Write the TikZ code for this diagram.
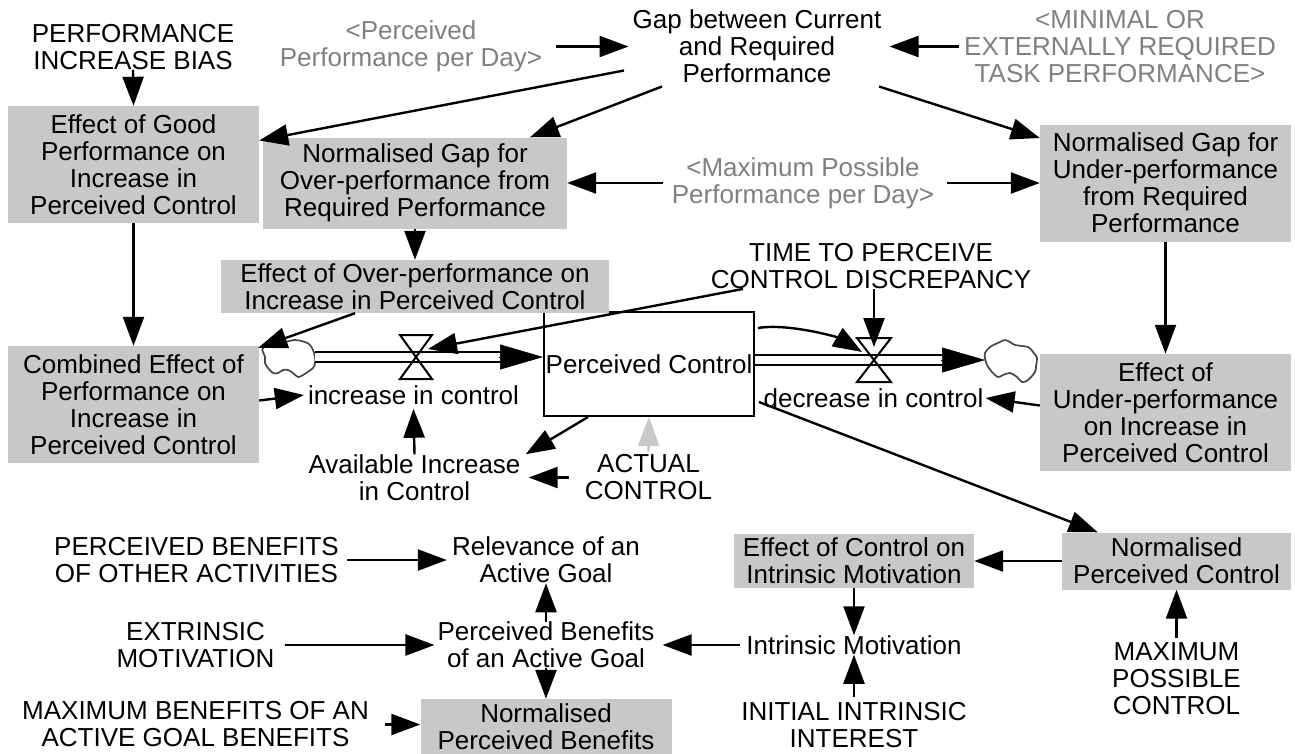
\documentclass[tikz,border=0pt]{standalone}
\usepackage{fontspec}
\setmainfont{Liberation Sans}
\usetikzlibrary{arrows.meta,calc}
\definecolor{boxgray}{RGB}{200,200,200}
\definecolor{ghost}{RGB}{128,128,128}
\definecolor{puff}{RGB}{70,70,70}
\definecolor{faint}{RGB}{200,200,200}
\newcommand{\varfont}{\fontsize{26}{27}\selectfont}
\begin{document}
\begin{tikzpicture}[x=1pt,y=-1pt,
  var/.style={align=center,inner sep=0pt,font=\varfont},
  shadowvar/.style={var,text=ghost},
  shaded/.style={var,fill=boxgray},
  link/.style={line width=2.4pt,-{Triangle[length=29pt,width=21pt]}},
  pipe/.style={line width=1.8pt,double=white,double distance=7.5pt},
  pipehead/.style={line width=0.5pt,-{Triangle[length=43pt,width=25pt]}},
  valveshape/.style={line width=2pt},
  cloudline/.style={draw=puff,line width=1.7pt,smooth cycle,tension=0.55},
]
\useasboundingbox (0,0) rectangle (1295,753);

% ---- top row ----
\node[var] (pib) at (133,47) {PERFORMANCE\\INCREASE BIAS};
\node[shadowvar] (ppd) at (411,46.5) {<Perceived\\Performance per Day>};
\node[var] (gap) at (757,46.5) {Gap between Current\\and Required\\Performance};
\node[shadowvar] (minreq) at (1120,46.5) {<MINIMAL OR\\EXTERNALLY REQUIRED\\TASK PERFORMANCE>};

% ---- second row ----
\node[shaded,minimum width=251pt,minimum height=117pt] (effgood) at (133.5,164.5)
  {Effect of Good\\Performance on\\Increase in\\Perceived Control};
\node[shaded,minimum width=304pt,minimum height=91pt] (normover) at (415,183)
  {Normalised Gap for\\Over-performance from\\Required Performance};
\node[shadowvar] (maxperf) at (803,183) {<Maximum Possible\\Performance per Day>};
\node[shaded,minimum width=251pt,minimum height=117pt] (normunder) at (1165.5,183)
  {Normalised Gap for\\Under-performance\\from Required\\Performance};

% ---- stock and flows ----
\node[draw,line width=2pt,fill=white,minimum width=210pt,minimum height=104pt,var] (stock) at (649,364) {Perceived Control};
\node[shaded,minimum width=388pt,minimum height=53pt] (effover) at (415,286.5)
  {Effect of Over-performance on\\Increase in Perceived Control};
\node[var] (ttpcd) at (871,266) {TIME TO PERCEIVE\\CONTROL DISCREPANCY};

\node[shaded,minimum width=251pt,minimum height=117pt] (combined) at (133.5,404.5)
  {Combined Effect of\\Performance on\\Increase in\\Perceived Control};
\coordinate (cloudL) at (289,358);
\coordinate (valveL) at (416,357);
\node[var] (inc) at (413.5,395) {increase in control};
\coordinate (valveR) at (874,360);
\coordinate (cloudR) at (1010,360);
\node[var] (dec) at (873.5,398) {decrease in control};
\node[shaded,minimum width=251pt,minimum height=117pt] (effunder) at (1165.5,412.5)
  {Effect of\\Under-performance\\on Increase in\\Perceived Control};
\node[var] (avail) at (414.5,477.5) {Available Increase\\in Control};
\node[var] (actual) at (648.5,477.5) {ACTUAL\\CONTROL};

% ---- lower part ----
\node[var] (pbother) at (196.5,560) {PERCEIVED BENEFITS\\OF OTHER ACTIVITIES};
\node[var] (relevance) at (546,560) {Relevance of an\\Active Goal};
\node[shaded,minimum width=240pt,minimum height=54pt] (effctrl) at (854,561)
  {Effect of Control on\\Intrinsic Motivation};
\node[shaded,minimum width=229pt,minimum height=57pt] (normpc) at (1176.5,561)
  {Normalised\\Perceived Control};
\node[var] (extrinsic) at (195.5,645) {EXTRINSIC\\MOTIVATION};
\node[var] (pbag) at (546,645) {Perceived Benefits\\of an Active Goal};
\node[var] (intrmot) at (854,645) {Intrinsic Motivation};
\node[var] (maxctrl) at (1176.5,679) {MAXIMUM\\POSSIBLE\\CONTROL};
\node[var] (maxben) at (195.5,724.5) {MAXIMUM BENEFITS OF AN\\ACTIVE GOAL BENEFITS};
\node[shaded,minimum width=251pt,minimum height=56pt] (normpb) at (546,727)
  {Normalised\\Perceived Benefits};
\node[var] (initint) at (854,725) {INITIAL INTRINSIC\\INTEREST};

% ---- clouds (source and sink) ----
\draw[cloudline,shift={(cloudL)}] plot coordinates {
  (-26,-10) (-16,-15) (-4,-16) (6,-18) (16,-16) (21,-13) (24,-8) (26,-1)
  (26,5) (24,10) (14,17) (9,19) (4,15) (-1,12) (-6,12) (-11,15) (-16,15)
  (-21,10) (-24,5) (-24,-1) (-26,-6)};
\draw[cloudline,shift={(cloudR)}] plot coordinates {
  (-25,-7) (-20,-13) (-10,-18) (-5,-20) (0,-18) (5,-15) (18,-13) (23,-8)
  (27,-2) (26,6) (25,12) (18,20) (12,22) (7,17) (0,13) (-7,15) (-12,17)
  (-18,12) (-23,5) (-25,-2)};

% ---- flow pipes ----
\coordinate (outL) at ($(cloudL)+(26,-1)$);
\coordinate (inL) at (outL -| stock.west);
\draw[pipe] (outL) -- ($(inL)+(-40,0)$);
\draw[pipehead] ($(inL)+(-44,0)$) -- (inL);
\coordinate (outR) at (stock.east |- valveR);
\coordinate (inR) at ($(cloudR)+(-25,0)$);
\draw[pipe] (outR) -- ($(inR)+(-40,0)$);
\draw[pipehead] ($(inR)+(-44,0)$) -- (inR);

% valves
\draw[valveshape] ($(valveL)+(-16,-22)$) -- ++(32,0) -- ++(-32,44) -- ++(32,0) -- cycle;
\draw[valveshape] ($(valveR)+(-17,-22)$) -- ++(34,0) -- ++(-34,44) -- ++(34,0) -- cycle;

% ---- links ----
\draw[link] (pib.south) -- (effgood.north);
\draw[link] ($(ppd.east)+(14,0)$) -- ($(gap.west)+(-4,0)$);
\draw[link] ($(minreq.west)+(-5,0)$) -- ($(gap.east)+(8,0)$);
\draw[link] ($(gap.center)+(-133,24)$) -- ($(effgood.east)+(0,-24)$);
\draw[link] ($(gap.center)+(-95,40)$) -- ($(normover.north)+(115,0)$);
\draw[link] ($(gap.center)+(122,40)$) -- ($(normunder.west)+(0,-45)$);
\draw[link] ($(maxperf.west)+(-9,0)$) -- (normover.east);
\draw[link] ($(maxperf.east)+(13,0)$) -- (normunder.west);
\draw[link] (normover.south) -- (effover.north);
\draw[link] (effgood.south) -- (combined.north);
\draw[link] ($(effover.south)+(-60,0)$) -- ($(combined.north east)+(-1,2)$);
\draw[link] ($(combined.east)+(0,-4)$) -- ($(inc.west)+(-4,0)$);
\draw[link] (avail.north) -- ($(inc.south)+(0,4)$);
\draw[link] ($(ttpcd.south)+(-128,0)$) -- ($(valveL)+(12,-8)$);
\draw[link] ($(ttpcd.south)+(3,0)$) -- ($(valveR)+(0,-13)$);
\draw[link] ($(stock.east)+(3,-36)$) .. controls ($(stock.east)+(33,-41)$) and ($(valveR)+(-37,-23)$) .. ($(valveR)+(-12,-8)$);
\draw[link] ($(effunder.west)+(0,-7)$) -- ($(dec.east)+(2,0)$);
\draw[link] (normunder.south) -- (effunder.north);
\draw[link] ($(stock.south)+(-61,0)$) -- ($(avail.north east)+(5,0)$);
\draw[link] ($(actual.west)+(-16,0)$) -- ($(avail.east)+(8,0)$);
\draw[link,color=faint] ($(actual.north)+(0,-3)$) -- (stock.south);
\draw[link] ($(stock.east)+(4,38)$) -- ($(normpc.north west)+(36,0)$);
\draw[link] (normpc.west) -- (effctrl.east);
\draw[link] ($(maxctrl.north)+(0,-5)$) -- (normpc.south);
\draw[link] (effctrl.south) -- (intrmot.north);
\draw[link] ($(initint.north)+(0,-5)$) -- (intrmot.south);
\draw[link] ($(intrmot.west)+(-6,0)$) -- ($(pbag.east)+(8,0)$);
\draw[link] (pbag.north) -- (relevance.south);
\draw[link] (pbag.south) -- (normpb.north);
\draw[link] ($(pbother.east)+(8,0)$) -- ($(relevance.west)+(-5,0)$);
\draw[link] ($(extrinsic.east)+(10,0)$) -- ($(pbag.west)+(-3,0)$);
\draw[link] ($(maxben.east)+(16,0)$) -- (maxben.east -| normpb.west);
\end{tikzpicture}
\end{document}
